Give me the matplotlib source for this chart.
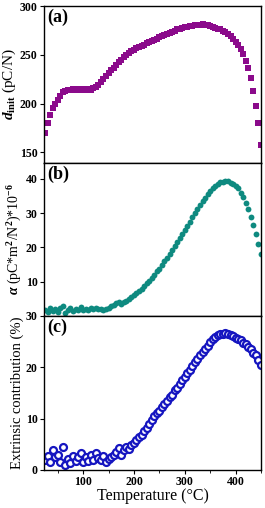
import matplotlib
matplotlib.use("Agg")
import matplotlib.pyplot as plt
from matplotlib.ticker import MultipleLocator

plt.rcParams['font.family'] = 'Liberation Serif'
plt.rcParams['font.weight'] = 'bold'
plt.rcParams['mathtext.fontset'] = 'custom'
plt.rcParams['mathtext.rm'] = 'Liberation Serif:bold'
plt.rcParams['mathtext.it'] = 'Liberation Serif:italic:bold'
plt.rcParams['mathtext.bf'] = 'Liberation Serif:bold'

temp = list(range(25, 451, 5))

d_init = [170, 180, 188, 195, 200, 204, 208, 212, 213, 214, 214, 215, 214, 215, 214, 215,
          214, 215, 214, 216, 217, 219, 222, 225, 228, 231, 234, 237, 240, 243, 245, 248,
          250, 252, 254, 255, 257, 258, 259, 260, 262, 263, 264, 265, 266, 268, 269, 270,
          271, 272, 273, 274, 276, 277, 278, 279, 279, 280, 280, 281, 281, 281, 282, 281,
          281, 280, 279, 278, 277, 276, 274, 273, 271, 269, 266, 263, 260, 256, 251, 244,
          236, 226, 213, 198, 180, 158]

alpha = [1.8, 1.2, 2.3, 1.5, 2.0, 1.3, 2.2, 3.0, 1.0, 1.8, 2.4, 1.5, 2.0, 1.7, 2.5, 1.6,
         2.1, 1.8, 2.3, 1.9, 2.4, 2.0, 2.1, 1.8, 2.0, 2.2, 2.8, 3.2, 3.8, 4.0, 3.6, 4.2,
         4.5, 5.0, 5.4, 6.0, 6.8, 7.4, 7.8, 8.6, 9.5, 10.3, 11.0, 12.0, 13.0, 13.7, 14.8, 16.0,
         17.0, 18.0, 19.2, 20.5, 21.6, 22.8, 24.0, 25.0, 26.3, 27.5, 28.8, 30.0, 31.2, 32.3, 33.4, 34.5,
         35.5, 36.5, 37.3, 38.0, 38.6, 39.0, 39.2, 39.5, 39.3, 38.8, 38.5, 38.0, 37.2, 36.0, 34.8, 33.0,
         31.2, 29.0, 26.5, 23.8, 21.0, 18.2]

extrinsic = [2.0, 2.8, 1.6, 3.8, 2.5, 3.0, 1.5, 4.5, 1.0, 2.2, 1.4, 2.8, 1.8, 2.5, 3.3, 1.5,
             2.6, 1.8, 2.9, 2.0, 3.2, 2.4, 2.0, 2.8, 1.6, 2.2, 2.5, 2.9, 3.4, 4.2, 3.0, 3.8,
             4.4, 4.0, 4.8, 5.3, 5.8, 6.5, 6.8, 7.5, 8.2, 9.0, 9.8, 10.5, 11.0, 11.5, 12.2, 12.8,
             13.5, 14.2, 14.6, 15.5, 16.0, 16.8, 17.5, 18.2, 18.9, 19.5, 20.2, 21.0, 21.6, 22.3, 23.0, 23.6,
             24.2, 25.0, 25.5, 25.9, 26.2, 26.4, 26.5, 26.6, 26.4, 26.3, 26.0, 25.8, 25.6, 25.3, 24.8, 24.5,
             24.0, 23.5, 22.8, 22.3, 21.5, 20.5]

fig = plt.figure(figsize=(2.65, 5.08), dpi=100)
ax1 = fig.add_axes([0.166, 0.679, 0.819, 0.309])
ax2 = fig.add_axes([0.166, 0.378, 0.819, 0.301])
ax3 = fig.add_axes([0.166, 0.075, 0.819, 0.303])

ax1.plot(temp, d_init, 's', color='#8B0A8B', markersize=4, markeredgewidth=0)
ax2.plot(temp, alpha, 'o', color='#0E8A80', markersize=4.2, markeredgewidth=0)
ax3.plot(temp, extrinsic, 'o', color='#1515C0', markerfacecolor='white', markersize=5, markeredgewidth=1.6)

ax1.set_ylim(139, 300)
ax1.yaxis.set_major_locator(MultipleLocator(50))
ax2.set_ylim(0, 44.6)
ax2.set_yticks([10, 20, 30, 40])
ax3.set_ylim(0, 30)
ax3.set_yticks([0, 10, 20, 30])

ax1.set_ylabel(r'$d_{\rm init}$ (pC/N)', fontsize=11, labelpad=1)
ax2.set_ylabel(r'$\alpha$ (pC*m$^2$/N$^2$)*10$^{-6}$', fontsize=10, labelpad=1)
ax3.set_ylabel('Extrinsic contribution (%)', fontsize=10.5, labelpad=1)
ax3.set_xlabel('Temperature (\u00b0C)', fontsize=11.5, labelpad=0)

for ax, lab in zip([ax1, ax2, ax3], ['(a)', '(b)', '(c)']):
    ax.set_xlim(23, 450)
    ax.xaxis.set_major_locator(MultipleLocator(100))
    ax.xaxis.set_minor_locator(MultipleLocator(50))
    ax.tick_params(labelsize=8.5, direction='out', length=3, pad=1.5)
    ax.tick_params(which='minor', direction='out', length=2)
    ax.text(0.015, 0.985, lab, transform=ax.transAxes, fontsize=13, fontweight='bold', va='top')
    for s in ax.spines.values():
        s.set_linewidth(1.0)
    if ax is not ax3:
        ax.tick_params(labelbottom=False)

fig.align_ylabels([ax1, ax2, ax3])
plt.savefig('out.png', dpi=100)
